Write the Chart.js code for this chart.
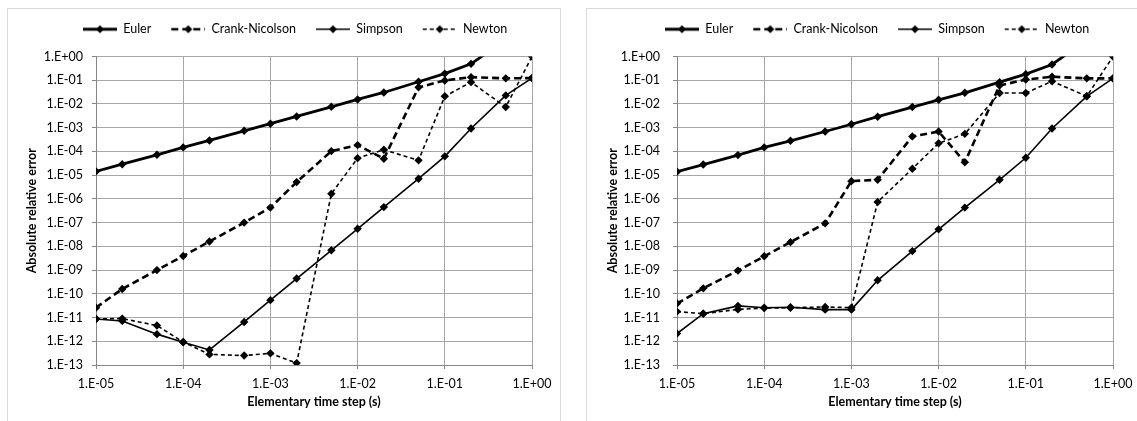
<!DOCTYPE html>
<html>
<head>
<meta charset="utf-8">
<script src="https://cdn.jsdelivr.net/npm/chart.js@4.4.0/dist/chart.umd.min.js"></script>
<style>
  body { margin: 0; background: #fff; width: 1137px; height: 421px; overflow: hidden; position: relative; }
  .box { position: absolute; top: 8px; height: 430px; border: 1px solid #d9d9d9; background: #fff; }
  #boxA { left: 7px; width: 552px; }
  #boxB { left: 586px; width: 560px; }
  canvas { position: absolute; left: 0; top: 0; }
</style>
</head>
<body>
<div class="box" id="boxA"><canvas id="chartA" width="552" height="412"></canvas></div>
<div class="box" id="boxB"><canvas id="chartB" width="550" height="412"></canvas></div>

<script>
// time steps (s)
const steps = [1e-5, 2e-5, 5e-5, 1e-4, 2e-4, 5e-4, 1e-3, 2e-3, 5e-3, 1e-2, 2e-2, 5e-2, 0.1, 0.2, 0.5, 1];

// left chart
const eulerA   = [1.44e-5, 2.9e-5, 7.2e-5, 1.48e-4, 2.9e-4, 7.4e-4, 1.47e-3, 2.97e-3, 7.6e-3, 1.55e-2, 3.05e-2, 8.6e-2, 0.19, 0.49, 5, 20];
const crankA   = [2.6e-11, 1.6e-10, 1.0e-9, 3.9e-9, 1.6e-8, 1.0e-7, 4.3e-7, 5.1e-6, 1.03e-4, 1.85e-4, 4.9e-5, 0.05, 0.098, 0.135, 0.12, 0.123];
const simpsonA = [8.7e-12, 7.2e-12, 2.0e-12, 9.1e-13, 4.3e-13, 6.5e-12, 5.4e-11, 4.4e-10, 6.8e-9, 5.5e-8, 4.5e-7, 7.1e-6, 6.2e-5, 9.3e-4, 0.023, 0.123];
const newtonA  = [8.9e-12, 9.0e-12, 4.6e-12, 9.3e-13, 2.8e-13, 2.5e-13, 3.1e-13, 1.2e-13, 1.65e-6, 5.2e-5, 1.18e-4, 4.2e-5, 0.021, 0.083, 0.0074, 1.0];

// right chart
const eulerB   = [1.4e-5, 2.8e-5, 7.0e-5, 1.48e-4, 2.8e-4, 6.9e-4, 1.4e-3, 2.9e-3, 7.4e-3, 1.5e-2, 2.95e-2, 8.3e-2, 0.18, 0.46, 5, 20];
const crankB   = [3.9e-11, 1.7e-10, 9.5e-10, 3.8e-9, 1.5e-8, 9.3e-8, 5.6e-6, 6.4e-6, 4.3e-4, 6.9e-4, 3.5e-5, 0.06, 0.107, 0.14, 0.12, 0.12];
const simpsonB = [2.1e-12, 1.46e-11, 3.1e-11, 2.6e-11, 2.7e-11, 2.15e-11, 2.15e-11, 3.7e-10, 6.3e-9, 5.2e-8, 4.3e-7, 6.4e-6, 5.4e-5, 9.3e-4, 0.021, 0.12];
const newtonB  = [1.78e-11, 1.46e-11, 2.2e-11, 2.5e-11, 2.6e-11, 2.8e-11, 2.6e-11, 7.4e-7, 1.87e-5, 2.2e-4, 5.5e-4, 0.029, 0.029, 0.091, 0.021, 1.0];

const seriesNames = ['Euler', 'Crank-Nicolson', 'Simpson', 'Newton'];

const xTickValues = [1e-5, 1e-4, 1e-3, 1e-2, 1e-1, 1];
const xTickLabels = ['1.E-05', '1.E-04', '1.E-03', '1.E-02', '1.E-01', '1.E+00'];
const yTickValues = [1e-13, 1e-12, 1e-11, 1e-10, 1e-9, 1e-8, 1e-7, 1e-6, 1e-5, 1e-4, 1e-3, 1e-2, 1e-1, 1];
const yTickLabels = ['1.E-13', '1.E-12', '1.E-11', '1.E-10', '1.E-09', '1.E-08', '1.E-07',
                     '1.E-06', '1.E-05', '1.E-04', '1.E-03', '1.E-02', '1.E-01', '1.E+00'];

// line styles per series: width, dash
const styles = [
  { w: 2.8, dash: [] },
  { w: 2.6, dash: [7, 4] },
  { w: 1.6, dash: [] },
  { w: 1.6, dash: [4, 3] }
];

Chart.defaults.font.family = "Lato, 'Open Sans', sans-serif";
Chart.defaults.font.size = 12;
Chart.defaults.color = '#000';

function legendImage(st) {
  const c = document.createElement('canvas');
  c.width = 44; c.height = 12;
  const g = c.getContext('2d');
  g.strokeStyle = '#000';
  g.lineWidth = st.w;
  g.setLineDash(st.dash);
  g.beginPath();
  g.moveTo(10, 6); g.lineTo(44, 6);
  g.stroke();
  g.setLineDash([]);
  g.fillStyle = '#000';
  g.beginPath();
  g.moveTo(27, 2); g.lineTo(31, 6); g.lineTo(27, 10); g.lineTo(23, 6);
  g.closePath();
  g.fill();
  return c;
}
const legendImages = styles.map(legendImage);

function makeChart(id, data, cfg) {
  const datasets = data.map((vals, i) => ({
    label: seriesNames[i],
    data: steps.map((s, j) => ({ x: s, y: vals[j] })),
    borderColor: '#000',
    backgroundColor: '#000',
    borderWidth: styles[i].w,
    borderDash: styles[i].dash,
    pointStyle: 'rectRot',
    pointRadius: 4.2,
    pointBorderWidth: 0,
    tension: 0
  }));

  new Chart(document.getElementById(id), {
    type: 'line',
    data: { datasets },
    options: {
      responsive: false,
      animation: false,
      devicePixelRatio: 1,
      events: [],
      layout: { padding: { top: 4, right: cfg.padRight, left: 0, bottom: 0 } },
      plugins: {
        tooltip: { enabled: false },
        legend: {
          position: 'top',
          align: 'start',
          labels: {
            usePointStyle: true,
            pointStyleWidth: 44,
            padding: 10,
            color: '#000',
            font: { size: 12.5 },
            generateLabels(chart) {
              const items = Chart.defaults.plugins.legend.labels.generateLabels(chart);
              items.forEach((it, i) => { it.pointStyle = legendImages[i]; });
              return items;
            }
          }
        }
      },
      scales: {
        x: {
          type: 'logarithmic',
          min: 1e-5,
          max: 1,
          afterBuildTicks: s => { s.ticks = xTickValues.map(v => ({ value: v })); },
          afterFit: s => { s.height = 56; s.paddingLeft = 0; s.paddingRight = 0; },
          ticks: {
            autoSkip: false,
            maxRotation: 0,
            padding: 7,
            color: '#000',
            font: { size: 12.5 },
            callback: (v, i) => xTickLabels[i]
          },
          grid: { color: '#a6a6a6', tickColor: '#868686', tickLength: 4 },
          border: { color: '#868686' },
          title: {
            display: true,
            text: 'Elementary time step (s)',
            color: '#000',
            font: { weight: 'bold', size: 12.5 },
            padding: { top: 0, bottom: 12 }
          }
        },
        y: {
          type: 'logarithmic',
          min: 1e-13,
          max: 1,
          afterBuildTicks: s => { s.ticks = yTickValues.map(v => ({ value: v })); },
          afterFit: s => { s.width = cfg.axisWidth; s.paddingTop = 0; s.paddingBottom = 0; },
          ticks: {
            autoSkip: false,
            padding: cfg.tickPad,
            color: '#000',
            font: { size: 12.5 },
            callback: (v, i) => yTickLabels[i]
          },
          grid: { color: '#a6a6a6', tickColor: '#868686', tickLength: 4 },
          border: { color: '#868686' },
          title: {
            display: true,
            text: 'Absolute relative error',
            color: '#000',
            font: { weight: 'bold', size: 12.5 },
            padding: { top: cfg.titlePad, bottom: 0 }
          }
        }
      }
    },
    plugins: [{
      id: 'legendPlace',
      beforeInit(chart) {
        const fit = chart.legend.fit;
        chart.legend.fit = function () {
          fit.call(this);
          this.height += 11;
        };
      },
      afterLayout(chart) {
        const lg = chart.legend;
        const dx = cfg.legendLeft - lg.left;
        lg.left += dx;
        lg.right += dx;
      }
    }]
  });
}

makeChart('chartA', [eulerA, crankA, simpsonA, newtonA],
  { padRight: 28, axisWidth: 88, tickPad: 9, titlePad: 16, legendLeft: 55 });
makeChart('chartB', [eulerB, crankB, simpsonB, newtonB],
  { padRight: 24, axisWidth: 90, tickPad: 13, titlePad: 18, legendLeft: 58 });
</script>
</body>
</html>
